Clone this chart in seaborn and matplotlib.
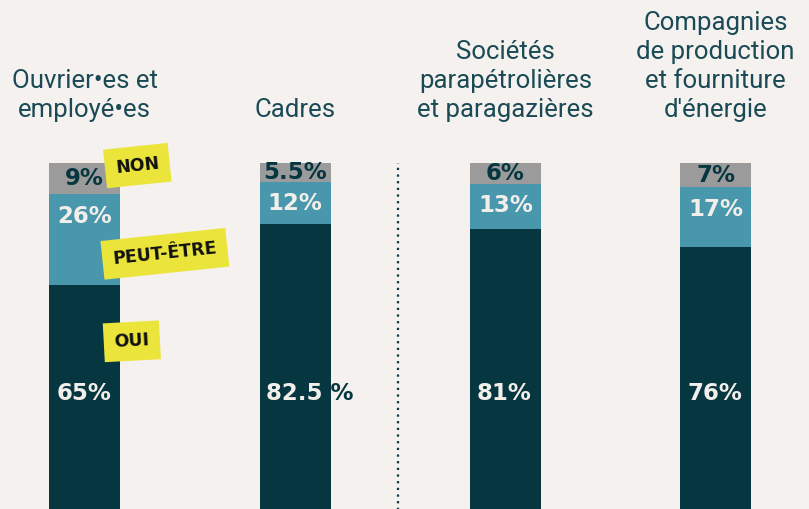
import numpy as np
import pandas as pd
import seaborn as sns
import matplotlib.pyplot as plt

# data
categories = ["Ouvrier•es et\nemployé•es", "Cadres",
              "Sociétés\nparapétrolières\net paragazières",
              "Compagnies\nde production\net fourniture\nd'énergie"]
oui = [65, 82.5, 81, 76]
peut_etre = [26, 12, 13, 17]
non = [9, 5.5, 6, 7]
oui_labels = ["65%", "82.5 %", "81%", "76%"]
peut_labels = ["26%", "12%", "13%", "17%"]
non_labels = ["9%", "5.5%", "6%", "7%"]

df = pd.DataFrame({"cat": categories, "oui": oui, "peut": peut_etre, "non": non})
df["oui_peut"] = df["oui"] + df["peut"]
df["total"] = df["oui_peut"] + df["non"]

bg = "#f4f1ee"
c_dark = "#06363f"
c_teal = "#4997ad"
c_gray = "#9b9b9b"
c_title = "#1a4a55"
c_white = "#f2efeb"
yellow = "#ebe53b"
w = 0.338

sns.set_style("white")
fig = plt.figure(figsize=(8.09, 5.09), dpi=100, facecolor=bg)
ax = fig.add_axes([0, 0, 1, 1])
ax.set_facecolor(bg)

for col, c in [("total", c_gray), ("oui_peut", c_teal), ("oui", c_dark)]:
    sns.barplot(data=df, x="cat", y=col, color=c, width=w, saturation=1,
                errorbar=None, linewidth=0, ax=ax)

ax.set_xlim(-0.403, 3.444)
ax.set_ylim(1.1, 146.5)
ax.set_axis_off()

pct = dict(family="DejaVu Sans", fontweight="bold", fontsize=16.5)
dark_bars = ax.containers[2]
for i in range(len(categories)):
    # titles above bars
    ax.text(i, 113, categories[i], ha="center", va="baseline", fontsize=18.5,
            family="Roboto", fontweight="normal", color=c_title, linespacing=1.26)
    # non (gray)
    ax.text(i, df["total"][i] - non[i] / 2, non_labels[i], ha="center",
            va="center", color=c_dark, **pct)
    # peut-etre (teal)
    top = df["oui_peut"][i]
    y = max(top - peut_etre[i] / 2, top - 6.3)
    ax.text(i, y, peut_labels[i], ha="center", va="center", color=c_white, **pct)
    # oui (dark) : white inside the bar, dark where it runs past it
    x0 = i - w / 2 + 0.033
    ax.text(x0, 34, oui_labels[i], ha="left", va="center", color=c_dark, **pct)
    t = ax.text(x0, 34, oui_labels[i], ha="left", va="center", color=c_white,
                clip_on=True, **pct)
    t.set_clip_path(dark_bars[i])

ax.vlines(1.489, 0, 100, color=c_dark, lw=1.6, linestyle=(0, (1, 2)))

# yellow stickers
tag = dict(family="DejaVu Sans", fontweight="bold", fontsize=12.5, color="#111111",
           ha="center", va="center",
           bbox=dict(boxstyle="square,pad=0.6", fc=yellow, ec="none"))
ax.text(0.25, 99.2, "NON", rotation=6, **tag)
ax.text(0.381, 74.0, "PEUT-ÊTRE", rotation=6, **tag)
ax.text(0.224, 49.0, "OUI", rotation=3, **tag)

fig.savefig("out.png", dpi=100, facecolor=bg)
